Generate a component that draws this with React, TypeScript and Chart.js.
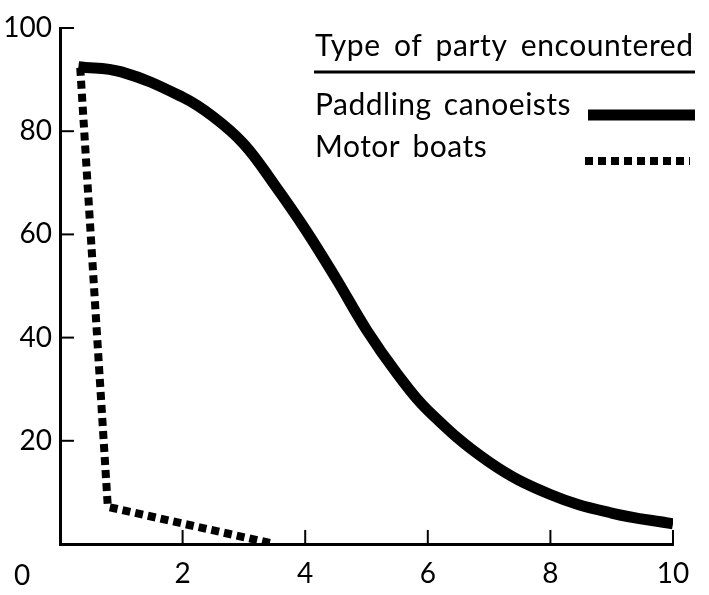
import React, { useEffect, useRef } from 'react';
import { Chart, registerables } from 'chart.js';

Chart.register(...registerables);

const canoeX = [0.3, 1.0, 2.0, 2.5, 3.0, 3.5, 4.0, 4.5, 5.0, 5.5, 6.0, 7.0, 8.0, 9.0, 10];
const canoeY = [92.5, 91.5, 86.6, 82.8, 77.5, 69.6, 61.0, 51.5, 41.5, 33.0, 25.9, 15.9, 9.6, 6.0, 3.9];
const motorX = [0.33, 0.78, 3.5];
const motorY = [92.3, 7.2, 0];
const xTicks = [0, 2, 4, 6, 8, 10];
const yTicks = [0, 20, 40, 60, 80, 100];
const legendTitle = 'Type of party encountered';
const seriesLabels = ['Paddling canoeists', 'Motor boats'];

const FONT = 'Lato';

export default function App() {
  const ref = useRef<HTMLCanvasElement>(null);

  useEffect(() => {
    if (!ref.current) return;

    const decor = {
      id: 'decor',
      afterDraw(chart: any) {
        const ctx = chart.ctx as any;
        const xs = chart.scales.x;
        const ys = chart.scales.y;
        const left = xs.getPixelForValue(0);
        const bottom = ys.getPixelForValue(0);
        ctx.save();
        ctx.strokeStyle = '#000';
        ctx.fillStyle = '#000';
        ctx.lineWidth = 2;
        ctx.lineCap = 'butt';
        // inward tick marks
        yTicks.forEach((v) => {
          if (v === 0) return;
          const y = ys.getPixelForValue(v);
          ctx.beginPath();
          ctx.moveTo(left, y);
          ctx.lineTo(left + 14, y);
          ctx.stroke();
        });
        xTicks.forEach((v) => {
          if (v === 0) return;
          const x = xs.getPixelForValue(v);
          ctx.beginPath();
          ctx.moveTo(x, bottom);
          ctx.lineTo(x, bottom - 14);
          ctx.stroke();
        });
        // shared origin label
        ctx.font = `28px ${FONT}`;
        ctx.textAlign = 'center';
        ctx.textBaseline = 'middle';
        ctx.fillText('0', left - 38, bottom + 32);

        // legend
        const lx = 315;
        ctx.textAlign = 'left';
        ctx.textBaseline = 'alphabetic';
        ctx.font = `30px ${FONT}`;
        ctx.letterSpacing = '0.6px';
        ctx.wordSpacing = '5px';
        ctx.fillText(legendTitle, lx, 56);
        ctx.lineWidth = 3;
        ctx.beginPath();
        ctx.moveTo(314, 72);
        ctx.lineTo(695, 72);
        ctx.stroke();

        const rows = [
          { y: 115, lineY: 115, x1: 588, x2: 695 },
          { y: 157, lineY: 161, x1: 585, x2: 690 },
        ];
        chart.data.datasets.forEach((ds: any, i: number) => {
          const r = rows[i];
          ctx.font = `30px ${FONT}`;
          ctx.letterSpacing = '0.5px';
          ctx.wordSpacing = '4px';
          ctx.fillStyle = '#000';
          ctx.fillText(ds.label, lx, r.y);
          ctx.strokeStyle = ds.borderColor;
          ctx.lineWidth = ds.borderWidth;
          ctx.setLineDash(ds.borderDash || []);
          ctx.beginPath();
          ctx.moveTo(r.x1, r.lineY);
          ctx.lineTo(r.x2, r.lineY);
          ctx.stroke();
          ctx.setLineDash([]);
        });
        ctx.restore();
      },
    };

    const chart = new Chart(ref.current, {
      type: 'line',
      data: {
        datasets: [
          {
            label: seriesLabels[0],
            data: canoeX.map((x, i) => ({ x, y: canoeY[i] })),
            borderColor: '#000',
            borderWidth: 11,
            pointRadius: 0,
            tension: 0.4,
            borderCapStyle: 'butt',
            fill: false,
          },
          {
            label: seriesLabels[1],
            data: motorX.map((x, i) => ({ x, y: motorY[i] })),
            borderColor: '#000',
            borderWidth: 8,
            borderDash: [8, 5],
            pointRadius: 0,
            tension: 0,
            borderCapStyle: 'butt',
            borderJoinStyle: 'miter',
            fill: false,
          },
        ],
      },
      options: {
        animation: false,
        responsive: false,
        layout: { padding: { left: 0, top: 28, right: 36, bottom: 0 } },
        plugins: {
          legend: { display: false },
          tooltip: { enabled: false },
          title: { display: false },
        },
        scales: {
          x: {
            type: 'linear',
            min: 0,
            max: 10,
            afterBuildTicks: (s: any) => {
              s.ticks = xTicks.map((v) => ({ value: v }));
            },
            afterFit: (s: any) => {
              s.height = 51;
            },
            grid: { display: false, drawTicks: false },
            border: { display: true, color: '#000', width: 3 },
            ticks: {
              padding: 13,
              color: '#000',
              font: { family: FONT, size: 28 },
              callback: (v: any) => (v === 0 ? '' : String(v)),
              maxRotation: 0,
              autoSkip: false,
            },
          },
          y: {
            type: 'linear',
            min: 0,
            max: 100,
            afterBuildTicks: (s: any) => {
              s.ticks = yTicks.map((v) => ({ value: v }));
            },
            afterFit: (s: any) => {
              s.width = 60;
            },
            grid: { display: false, drawTicks: false },
            border: { display: true, color: '#000', width: 3 },
            ticks: {
              padding: 8,
              color: '#000',
              font: { family: FONT, size: 28 },
              callback: (v: any) => (v === 0 ? '' : String(v)),
              autoSkip: false,
            },
          },
        },
      },
      plugins: [decor],
    } as any);

    return () => chart.destroy();
  }, []);

  return (
    <div style={{ position: 'absolute', left: 0, top: 0, width: 709, height: 595, background: '#fff' }}>
      <canvas ref={ref} width={709} height={595} />
    </div>
  );
}
